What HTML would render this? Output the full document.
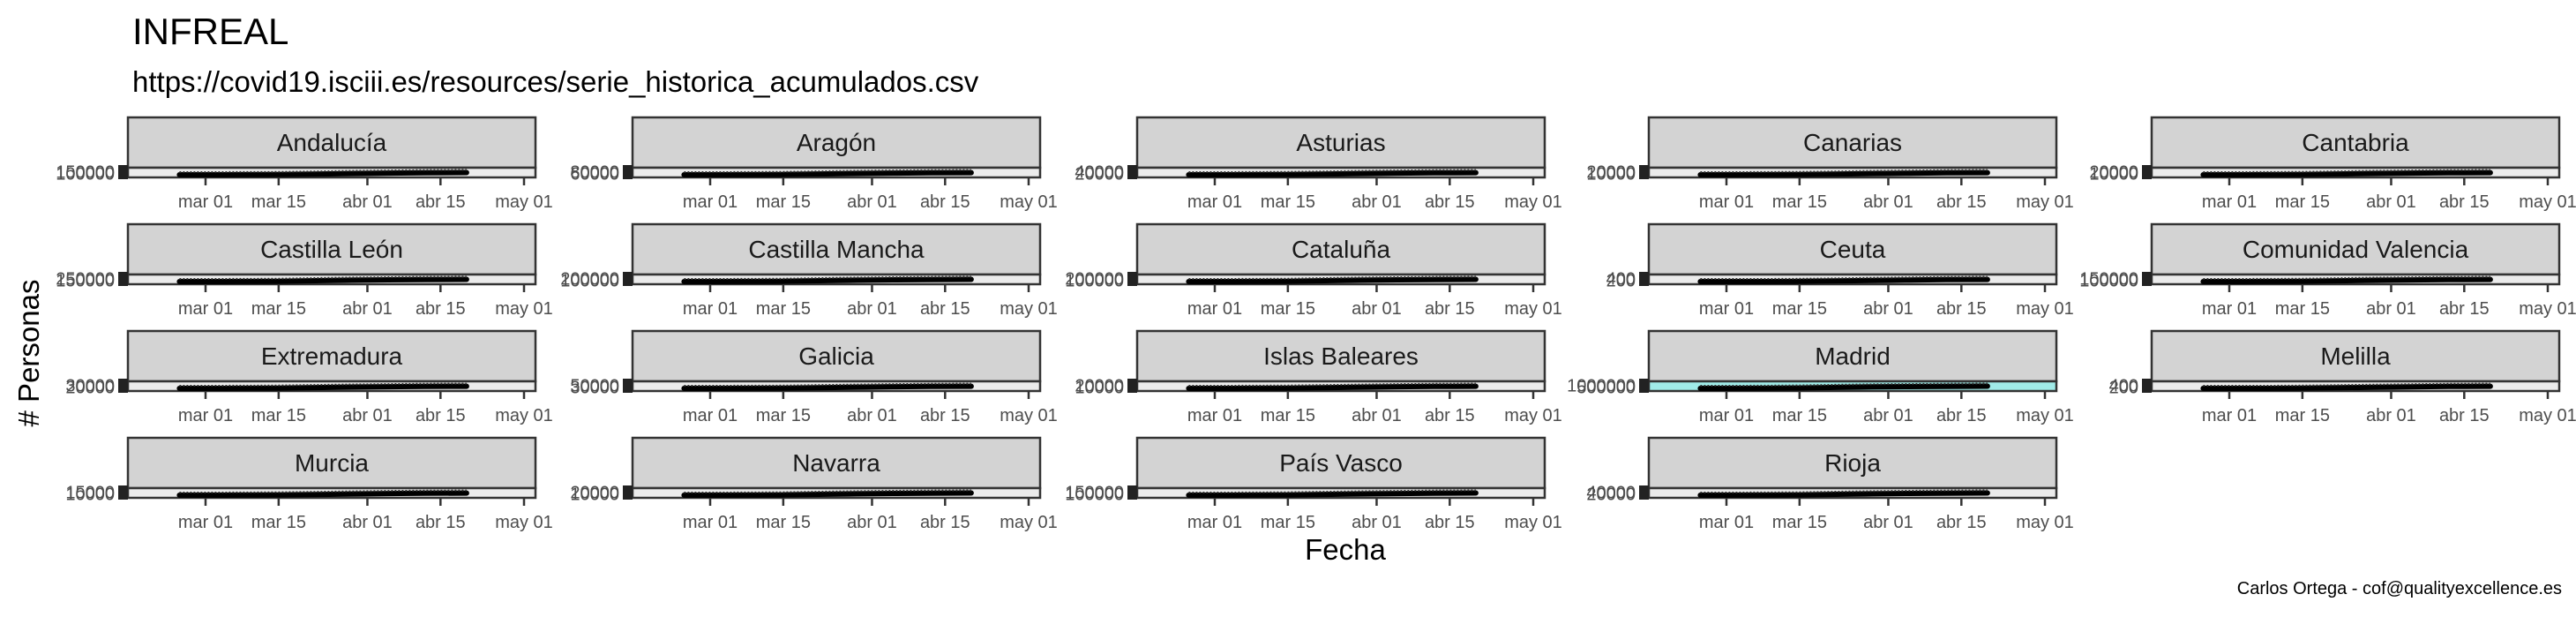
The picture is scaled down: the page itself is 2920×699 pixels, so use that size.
<!DOCTYPE html>
<html><head><meta charset="utf-8">
<style>
html,body{margin:0;padding:0;background:#fff;}
svg{display:block;font-family:"Liberation Sans",Arial,sans-serif;}
</style></head>
<body>
<svg id="chart" width="2920" height="699" viewBox="0 0 2920 699" xmlns="http://www.w3.org/2000/svg">
<text x="150" y="50" font-size="42" fill="#000">INFREAL</text>
<text x="150" y="104" font-size="33" fill="#000">https://covid19.isciii.es/resources/serie_historica_acumulados.csv</text>
<text transform="translate(44,400) rotate(-90)" text-anchor="middle" font-size="33" fill="#000"># Personas</text>
<text x="1525" y="634" text-anchor="middle" font-size="33" fill="#000">Fecha</text>
<text x="2904" y="673" text-anchor="end" font-size="20" fill="#000">Carlos Ortega - cof@qualityexcellence.es</text>
<g id="panels"></g>
</svg>
<script>
const regions = ["Andalucía","Aragón","Asturias","Canarias","Cantabria","Castilla León","Castilla Mancha","Cataluña","Ceuta","Comunidad Valencia","Extremadura","Galicia","Islas Baleares","Madrid","Melilla","Murcia","Navarra","País Vasco","Rioja"];
const yTopLabels = ["150000","80000","40000","20000","20000","250000","200000","200000","400","150000","30000","50000","20000","1000000","400","15000","20000","150000","40000"];
const yLowLabels = ["100000","60000","20000","10000","10000","150000","100000","100000","200","100000","20000","30000","10000","500000","200","10000","10000","100000","20000"];
// days since Mar 1 for sampled dates
const sampleDays = [-5,0,7,14,21,28,35,42,50];
// cumulative values (relative) per region at sampleDays
const casesSeries = [
 [0,1,3,12,40,70,95,115,125],[0,1,3,15,45,75,95,110,120],[0,1,3,14,42,72,94,112,122],
 [0,1,3,13,40,70,92,110,118],[0,1,3,14,44,74,95,112,121],[0,1,4,16,48,78,98,114,124],
 [0,1,4,16,50,80,100,115,124],[0,1,4,17,50,80,99,114,125],[0,1,2,10,35,65,90,110,120],
 [0,1,3,14,44,74,95,112,122],[0,1,3,14,45,75,96,113,122],[0,1,3,12,40,70,93,112,122],
 [0,1,3,13,42,72,94,112,121],[0,2,6,20,55,85,102,116,125],[0,1,2,10,36,66,90,110,120],
 [0,1,3,13,42,72,94,112,121],[0,1,4,16,48,78,98,114,124],[0,1,4,16,47,77,97,114,124],
 [0,1,4,16,48,78,98,114,124]];
const tickDays = [0,14,31,45,61];
const tickLabels = ["mar 01","mar 15","abr 01","abr 15","may 01"];
const highlighted = ["Madrid"];

const NS="http://www.w3.org/2000/svg";
const g=document.getElementById('panels');
const colX=[145,717,1289,1869,2439], W=462;
const rowY=[133,254,375,496], stripH=57, panH=11;
function mk(tag,attrs,parent){const e=document.createElementNS(NS,tag);for(const k in attrs)e.setAttribute(k,attrs[k]);parent.appendChild(e);return e;}
function xScale(d,left){return left+88+(d)*(449-88)/61;}
function yScale(v,top){return top+panH-3-(v/125)*2.5;}

regions.forEach((name,i)=>{
  const c=i%5, r=Math.floor(i/5), L=colX[c], T=rowY[r];
  const pg=mk('g',{},g);
  
  
  const strip=mk('rect',{x:L,y:T,width:W,height:stripH,fill:'#d3d3d3',stroke:'#333','stroke-width':2.5},pg);
  
  
  const st=mk('text',{x:L+W/2,y:T+38,'text-anchor':'middle','font-size':28,fill:'#1a1a1a'},pg);
  st.textContent=name;
  
  
  const pT=T+stripH;
  const bg=mk('rect',{x:L,y:pT,width:W,height:panH,fill:highlighted.includes(name)?'#a0ebe8':'#ebebeb',stroke:'#333','stroke-width':2.5},pg);
  
  
  const vals=casesSeries[i];
  const pts=sampleDays.map((d,k)=>xScale(d,L).toFixed(1)+','+yScale(vals[k],pT).toFixed(1)).join(' ');
  const ln=mk('polyline',{points:pts,fill:'none',stroke:'#000','stroke-width':6,'stroke-linecap':'round'},pg);
  
  
  const ln2=mk('polyline',{points:pts,fill:'none',stroke:'#333','stroke-width':2,'stroke-dasharray':'2 2',transform:'translate(0,-3)'},pg);
  
  
  const yt=mk('rect',{x:L-11,y:pT-3,width:11,height:panH+5,fill:'#222'},pg);
  
  
  [yTopLabels[i],yLowLabels[i]].forEach((lab,k)=>{
    const t=mk('text',{x:L-15,y:pT+panH/2+7+(k?1:-1),'text-anchor':'end','font-size':20,fill:'#4d4d4d'},pg);
    t.textContent=lab;
    
    
  });
  tickDays.forEach((d,k)=>{
    const x=xScale(d,L);
    const tk=mk('line',{x1:x,x2:x,y1:pT+panH,y2:pT+panH+9,stroke:'#333','stroke-width':2.5},pg);
    
    
    const tl=mk('text',{x:x,y:pT+panH+34,'text-anchor':'middle','font-size':20,fill:'#4d4d4d'},pg);
    tl.textContent=tickLabels[k];
    
    
  });
});
</script>
</body></html>
